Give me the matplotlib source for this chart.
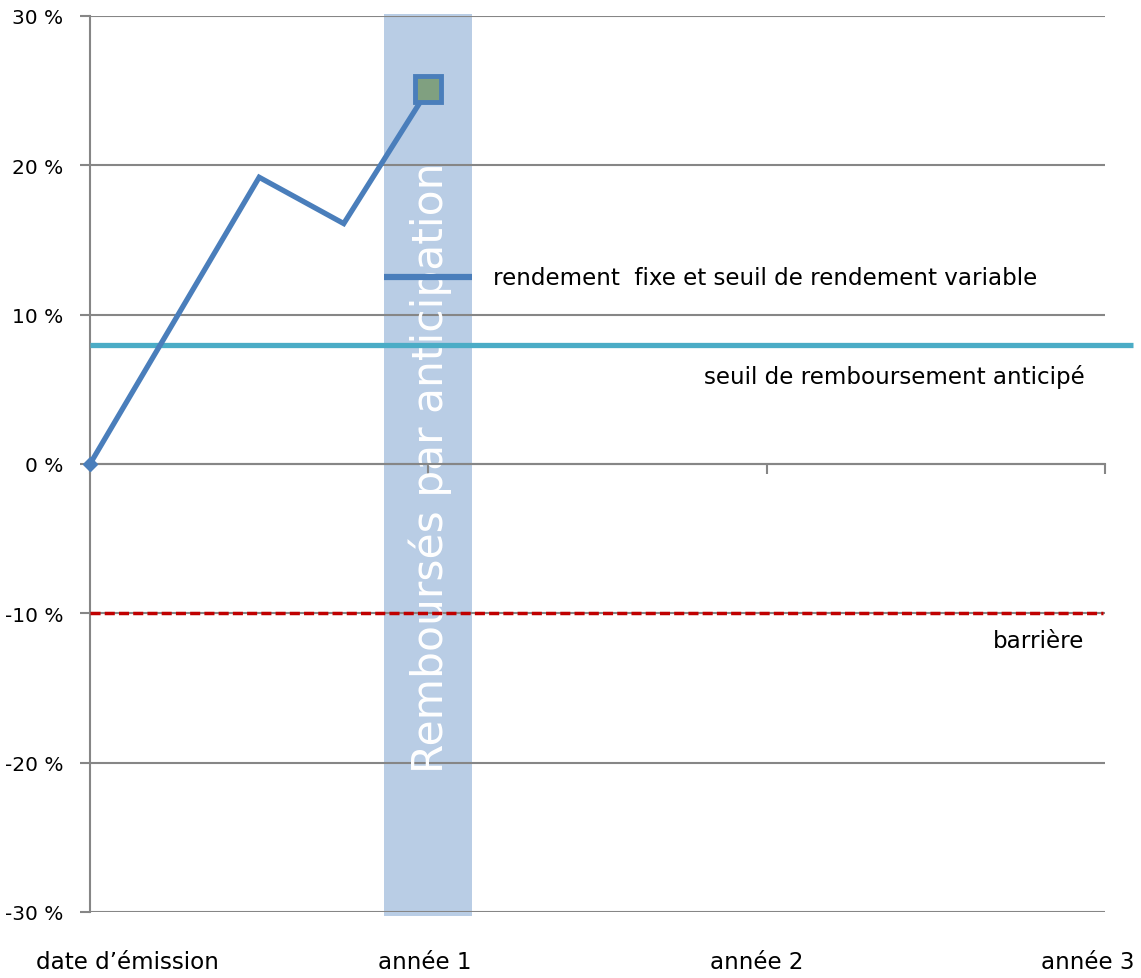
import matplotlib
matplotlib.use("Agg")
import matplotlib.pyplot as plt
import matplotlib.transforms as mtransforms
from matplotlib.patches import Rectangle

plt.rcParams['font.family'] = ['DejaVu Sans']

# Underlying performance path (years since issue, performance in %)
path_years = [0.0, 0.5, 0.75, 1.0]
path_perf = [0.0, 19.2, 16.1, 25.1]

early_redemption_level = 8.0   # seuil de remboursement anticipé
barrier_level = -10.0          # barrière
fixed_yield_level = 12.5       # rendement fixe et seuil de rendement variable

yticks = [-30, -20, -10, 0, 10, 20, 30]
ytick_labels = ["-30 %", "-20 %", "-10 %", "0 %", "10 %", "20 %", "30 %"]
xlabel_pos = [0.11, 0.99, 1.97, 2.95]
xlabel_text = ["date d\u2019émission", "année 1", "année 2", "année 3"]

band_years = (0.87, 1.13)

BLUE = "#4a7ebb"
CYAN = "#4bacc6"
BAND = "#b9cde5"
GRID = "#868686"
RED = "#c00000"

ANNOT_FS = 16.6

W, H = 1141, 979
fig = plt.figure(figsize=(W / 100, H / 100), dpi=100)
ax = fig.add_axes([90 / W, 1 - 913 / H, (1105 - 90) / W, (913 - 17) / H])

ax.set_xlim(0, 3)
ax.set_ylim(-30, 30)

# Grid and axes styling
ax.set_yticks(yticks)
ax.set_yticklabels(ytick_labels)
ax.yaxis.grid(True, color=GRID, linewidth=1.5, zorder=0)
ax.tick_params(axis='y', length=7, width=1.5, color=GRID, pad=12,
               labelsize=14.5, labelcolor="black")
for s in ['top', 'right']:
    ax.spines[s].set_visible(False)
ax.spines['left'].set_color(GRID)
ax.spines['left'].set_linewidth(1.5)
ax.spines['bottom'].set_position(('data', 0))
ax.spines['bottom'].set_color(GRID)
ax.spines['bottom'].set_linewidth(1.5)
ax.set_xticks([0, 1, 2, 3])
ax.set_xticklabels([])
ax.tick_params(axis='x', length=7, width=1.5, color=GRID, direction='out')

# Early-redemption band
ax.add_patch(Rectangle((band_years[0], -30.3), band_years[1] - band_years[0], 60.45,
                       facecolor=BAND, edgecolor='none', zorder=1, clip_on=False))
ax.text(sum(band_years) / 2 + 0.005, -0.2, "Remboursés par anticipation",
        rotation=90, color="white", fontsize=30.5, ha='center', va='center', zorder=2)

# Fixed yield marker line inside the band
ax.plot(band_years, [fixed_yield_level] * 2, color=BLUE, linewidth=4.5,
        solid_capstyle='butt', zorder=3)
ax.text(1.19, fixed_yield_level, "rendement  fixe et seuil de rendement variable",
        fontsize=ANNOT_FS, ha='left', va='center', zorder=3)

# Early redemption threshold
ax.plot([0, 3.083], [early_redemption_level] * 2, color=CYAN, linewidth=3.8,
        solid_capstyle='butt', zorder=3, clip_on=False)
ax.text(2.94, 5.9, "seuil de remboursement anticipé", fontsize=ANNOT_FS,
        ha='right', va='center', zorder=3)

# Barrier
ax.plot([0, 2.995], [barrier_level] * 2, color=RED, linewidth=2.5,
        linestyle=(0, (2.9, 1.2)), zorder=3)
ax.text(2.94, -11.85, "barrière", fontsize=ANNOT_FS, ha='right', va='center', zorder=3)

# Performance path
ax.plot(path_years, path_perf, color=BLUE, linewidth=3.8, zorder=4,
        solid_joinstyle='miter', clip_on=False)
ax.plot(path_years[0], path_perf[0], marker='D', markersize=7.5, color=BLUE,
        zorder=5, clip_on=False)
ax.plot(path_years[-1], path_perf[-1], marker='s', markersize=19,
        markerfacecolor="#80a080", markeredgecolor=BLUE, markeredgewidth=3.5,
        zorder=5, clip_on=False)

# Period labels below the chart
trans = mtransforms.blended_transform_factory(ax.transData, ax.transAxes)
for xp, lab in zip(xlabel_pos, xlabel_text):
    ax.text(xp, -0.0547, lab, transform=trans, fontsize=ANNOT_FS,
            ha='center', va='center')

fig.savefig("out.png", dpi=100)
